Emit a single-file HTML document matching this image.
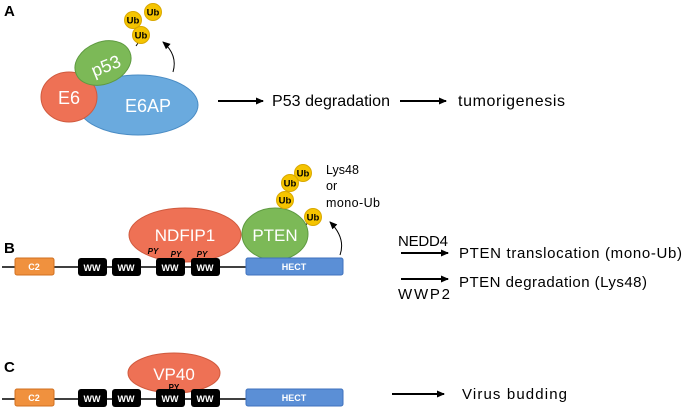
<!DOCTYPE html>
<html><head><meta charset="utf-8"><style>html,body{margin:0;padding:0;background:#fff}svg{display:block}</style></head><body>
<svg width="685" height="407" viewBox="0 0 685 407" xmlns="http://www.w3.org/2000/svg" font-family="Liberation Sans, sans-serif">
<defs><marker id="ah" markerWidth="8" markerHeight="8" refX="7" refY="4" orient="auto" markerUnits="userSpaceOnUse"><path d="M0,0.5 L8,4 L0,7.5 z" fill="#000"/></marker></defs>
<!-- A -->
<text x="4" y="16" font-size="15" font-weight="bold">A</text>
<ellipse cx="138" cy="105" rx="60" ry="30" fill="#6aaade" stroke="#4a8cc4"/>
<ellipse cx="69" cy="97" rx="28" ry="25" fill="#ee7155" stroke="#d05a3e"/>
<ellipse cx="103" cy="63" rx="29" ry="21" transform="rotate(-22 103 63)" fill="#7cb957" stroke="#5e9a40"/>
<line x1="136" y1="46" x2="140" y2="40" stroke="#000"/>
<circle cx="133" cy="20" r="8.5" fill="#f5c400" stroke="#d9a800"/>
<circle cx="153" cy="12" r="8.5" fill="#f5c400" stroke="#d9a800"/>
<circle cx="141" cy="35" r="8.5" fill="#f5c400" stroke="#d9a800"/>
<g font-size="9.5" font-weight="bold" text-anchor="middle"><text x="133" y="23.5">Ub</text><text x="153" y="15.5">Ub</text><text x="141" y="38.5">Ub</text></g>
<g fill="#fff" font-size="18" text-anchor="middle"><text x="69" y="104">E6</text><text x="148" y="112">E6AP</text><text x="106" y="72" transform="rotate(-22 106 66)">p53</text></g>
<path d="M173,72 Q178,55 163,42" fill="none" stroke="#000" marker-end="url(#ah)"/>
<line x1="218" y1="101" x2="263" y2="101" stroke="#000" stroke-width="2" marker-end="url(#ah)"/>
<text x="272" y="106" font-size="16" textLength="118">P53 degradation</text>
<line x1="400" y1="101" x2="446" y2="101" stroke="#000" stroke-width="2" marker-end="url(#ah)"/>
<text x="458" y="106" font-size="16" textLength="107">tumorigenesis</text>
<!-- B -->
<text x="4" y="253" font-size="15" font-weight="bold">B</text>
<line x1="2" y1="267" x2="343" y2="267" stroke="#000" stroke-width="1.5"/>
<ellipse cx="185" cy="235" rx="56" ry="27" fill="#ee7155" stroke="#d05a3e"/>
<line x1="284" y1="208" x2="284" y2="200" stroke="#000"/>
<line x1="305" y1="226" x2="310" y2="220" stroke="#000"/>
<ellipse cx="275" cy="234" rx="33" ry="26" fill="#7cb957" stroke="#5e9a40"/>
<g fill="#f5c400" stroke="#d9a800"><circle cx="303" cy="173" r="8.5"/><circle cx="290" cy="183" r="8.5"/><circle cx="285" cy="200" r="8.5"/><circle cx="313" cy="217" r="8.5"/></g>
<g font-size="9.5" font-weight="bold" text-anchor="middle"><text x="303" y="176.5">Ub</text><text x="290" y="186.5">Ub</text><text x="285" y="203.5">Ub</text><text x="313" y="220.5">Ub</text></g>
<g font-size="12.5"><text x="326" y="174">Lys48</text><text x="326" y="190">or</text><text x="326" y="207" textLength="54">mono-Ub</text></g>
<g fill="#fff" font-size="17" text-anchor="middle"><text x="185" y="241">NDFIP1</text><text x="275" y="241">PTEN</text></g>
<path d="M340,255 Q346,238 330,222" fill="none" stroke="#000" marker-end="url(#ah)"/>
<rect x="15" y="258" width="39" height="17" rx="2" fill="#f0913e" stroke="#d07020"/>
<rect x="246" y="258" width="97" height="17" rx="2" fill="#5b8fd6" stroke="#3f72bd"/>
<g fill="#000"><rect x="78" y="258" width="29" height="18" rx="3"/><rect x="112" y="258" width="29" height="18" rx="3"/><rect x="156" y="258" width="29" height="18" rx="3"/><rect x="191" y="258" width="29" height="18" rx="3"/></g>
<g fill="#fff" font-size="9" font-weight="bold" text-anchor="middle"><text x="34" y="270">C2</text><text x="294" y="270">HECT</text><text x="92" y="271">WW</text><text x="126" y="271">WW</text><text x="170" y="271">WW</text><text x="205" y="271">WW</text></g>
<g font-size="8" font-weight="bold" font-style="italic" text-anchor="middle"><text x="153" y="254">PY</text><text x="176" y="257">PY</text><text x="202" y="257">PY</text></g>
<text x="398" y="246" font-size="15" textLength="50">NEDD4</text>
<line x1="401" y1="253" x2="448" y2="253" stroke="#000" stroke-width="2" marker-end="url(#ah)"/>
<text x="459" y="258" font-size="15" textLength="223">PTEN translocation (mono-Ub)</text>
<line x1="401" y1="279" x2="448" y2="279" stroke="#000" stroke-width="2" marker-end="url(#ah)"/>
<text x="459" y="287" font-size="15" textLength="188">PTEN degradation (Lys48)</text>
<text x="398" y="299" font-size="15" textLength="52">WWP2</text>
<!-- C -->
<text x="4" y="372" font-size="15" font-weight="bold">C</text>
<line x1="2" y1="399" x2="343" y2="399" stroke="#000" stroke-width="1.5"/>
<ellipse cx="174" cy="373" rx="46" ry="20" fill="#ee7155" stroke="#d05a3e"/>
<text x="174" y="380" fill="#fff" font-size="17" text-anchor="middle">VP40</text>
<text x="174" y="390" font-size="8" font-weight="bold" text-anchor="middle">PY</text>
<rect x="15" y="389" width="39" height="17" rx="2" fill="#f0913e" stroke="#d07020"/>
<rect x="246" y="389" width="97" height="17" rx="2" fill="#5b8fd6" stroke="#3f72bd"/>
<g fill="#000"><rect x="78" y="389" width="29" height="18" rx="3"/><rect x="112" y="389" width="29" height="18" rx="3"/><rect x="156" y="389" width="29" height="18" rx="3"/><rect x="191" y="389" width="29" height="18" rx="3"/></g>
<g fill="#fff" font-size="9" font-weight="bold" text-anchor="middle"><text x="34" y="401">C2</text><text x="294" y="401">HECT</text><text x="92" y="402">WW</text><text x="126" y="402">WW</text><text x="170" y="402">WW</text><text x="205" y="402">WW</text></g>
<line x1="392" y1="394" x2="444" y2="394" stroke="#000" stroke-width="2" marker-end="url(#ah)"/>
<text x="462" y="399" font-size="15" textLength="105">Virus budding</text>
</svg>
</body></html>
